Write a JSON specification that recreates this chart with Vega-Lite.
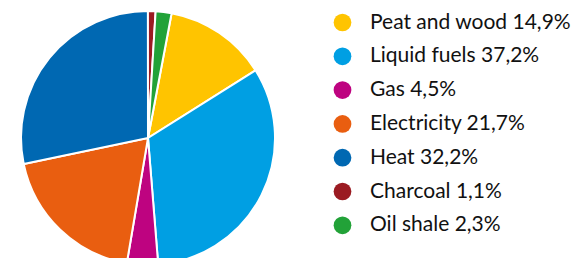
{
  "$schema": "https://vega.github.io/schema/vega-lite/v6.json",
  "autosize": {"type": "none"},
  "padding": {"left": 0, "top": 0, "right": 284, "bottom": 0},
  "width": 296,
  "height": 276,
  "background": "white",
  "data": {
    "values": [
      {"idx": 1, "label": "Peat and wood 14,9%", "value": 14.9},
      {"idx": 2, "label": "Liquid fuels 37,2%", "value": 37.2},
      {"idx": 3, "label": "Gas 4,5%", "value": 4.5},
      {"idx": 4, "label": "Electricity 21,7%", "value": 21.7},
      {"idx": 5, "label": "Heat 32,2%", "value": 32.2},
      {"idx": 6, "label": "Charcoal 1,1%", "value": 1.1},
      {"idx": 7, "label": "Oil shale 2,3%", "value": 2.3}
    ]
  },
  "mark": {"type": "arc", "outerRadius": 127, "stroke": "white", "strokeWidth": 2},
  "encoding": {
    "theta": {"field": "value", "type": "quantitative", "stack": true, "scale": {"range": [0.187, 6.4702]}},
    "order": {"field": "idx", "type": "quantitative"},
    "color": {
      "field": "label",
      "type": "nominal",
      "sort": ["Peat and wood 14,9%", "Liquid fuels 37,2%", "Gas 4,5%", "Electricity 21,7%", "Heat 32,2%", "Charcoal 1,1%", "Oil shale 2,3%"],
      "scale": {
        "domain": ["Peat and wood 14,9%", "Liquid fuels 37,2%", "Gas 4,5%", "Electricity 21,7%", "Heat 32,2%", "Charcoal 1,1%", "Oil shale 2,3%"],
        "range": ["#FFC400", "#009FE3", "#BE0380", "#E95E10", "#0068B2", "#9B1B22", "#22A238"]
      },
      "legend": {
        "title": null,
        "orient": "none",
        "legendX": 332,
        "legendY": 12,
        "symbolType": "circle",
        "symbolSize": 314,
        "symbolStrokeWidth": 0,
        "symbolOpacity": 1,
        "labelFont": "Lato",
        "labelFontSize": 21,
        "labelColor": "#111111",
        "labelOffset": 17,
        "labelLimit": 300,
        "rowPadding": 11.8
      }
    }
  }
}
